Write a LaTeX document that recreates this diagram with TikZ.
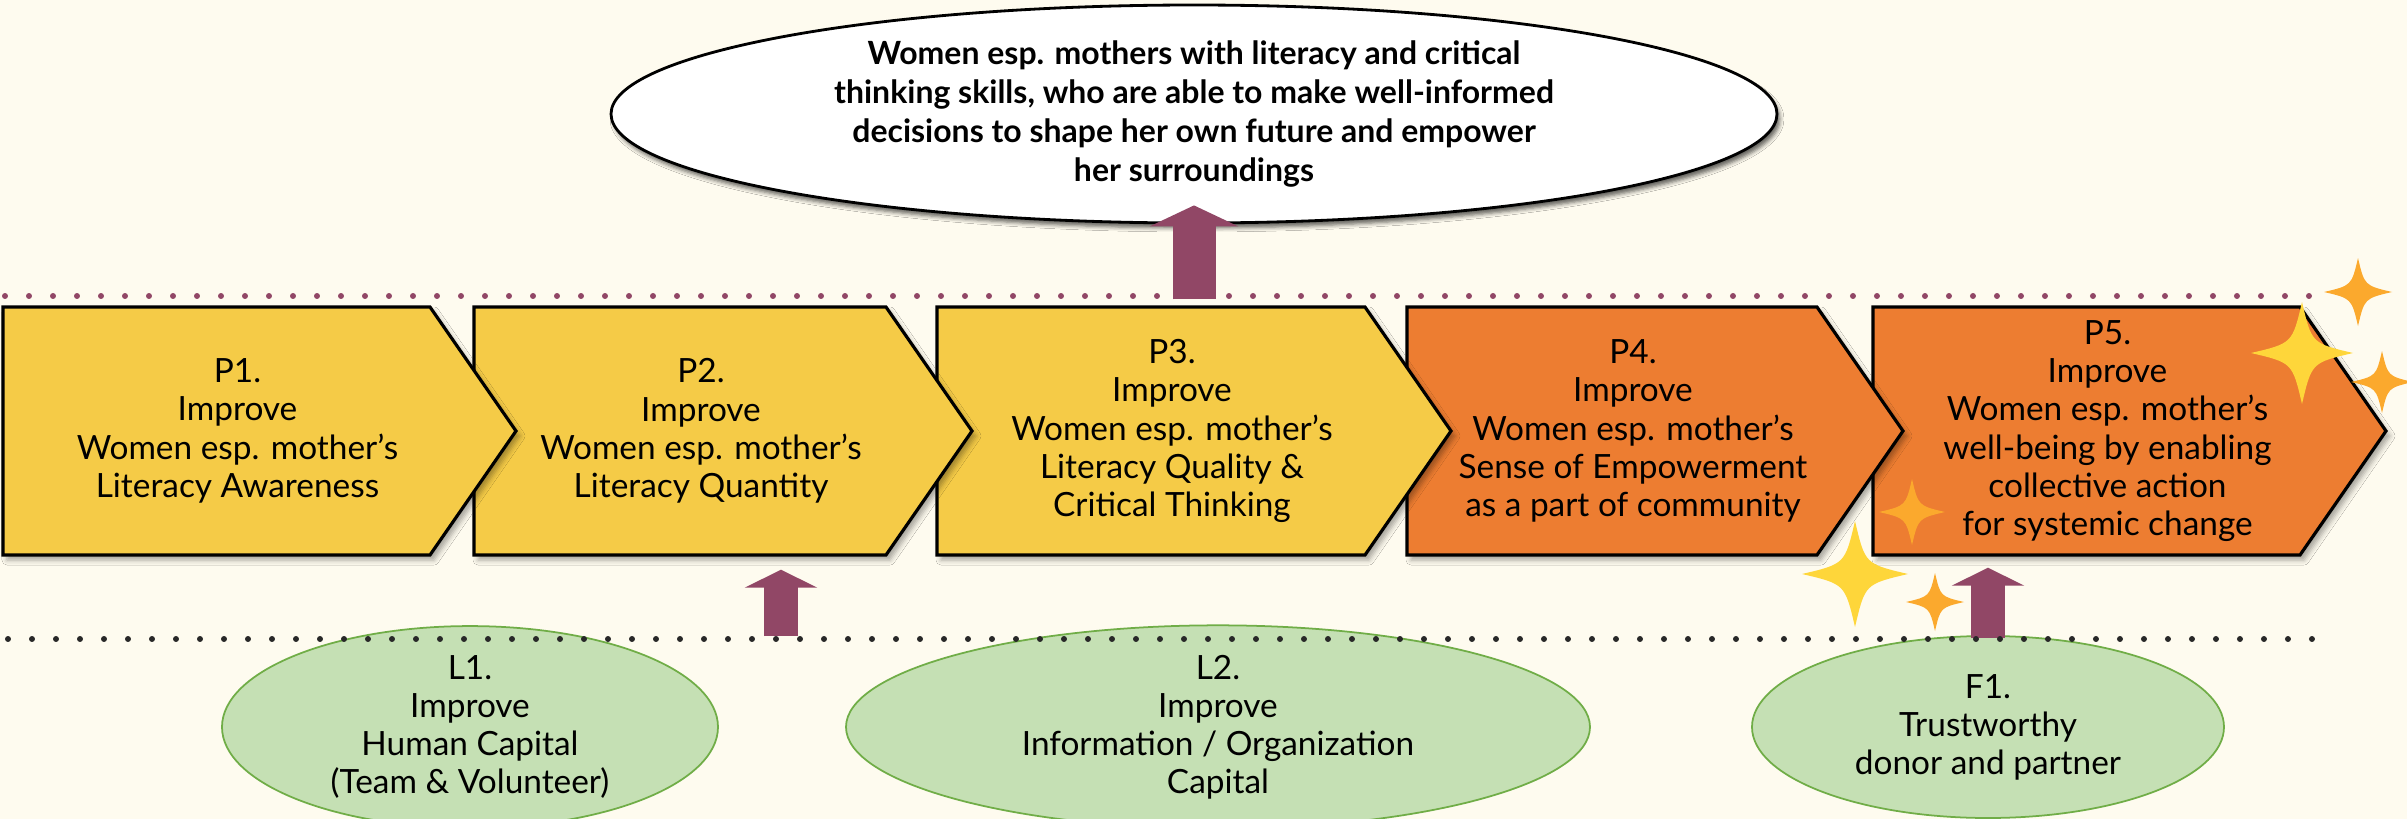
\documentclass[tikz,border=0pt]{standalone}
\usepackage{fontspec}
\setmainfont{Lato}
\usepackage{tikz}
\usetikzlibrary{arrows.meta, calc, shapes.geometric, shadows.blur}
\definecolor{paper}{RGB}{254,251,239}
\definecolor{stageYellow}{RGB}{245,203,71}
\definecolor{stageOrange}{RGB}{237,125,49}
\definecolor{liftMaroon}{RGB}{145,71,102}
\definecolor{capFill}{RGB}{197,224,180}
\definecolor{capLine}{RGB}{112,173,71}
\definecolor{sparkYellow}{RGB}{254,214,58}
\definecolor{sparkOrange}{RGB}{251,169,45}
\definecolor{dotGrey}{RGB}{40,40,40}
\tikzset{
    stage/.style={draw=black, line width=0.9pt, fill=#1,
                  blur shadow={shadow xshift=0.4mm, shadow yshift=-0.5mm,
                               shadow blur radius=0.5mm, shadow opacity=35}},
    stage/.default=stageYellow,
    stagetext/.style={align=center, inner sep=0pt, minimum height=2.48cm,
                      font=\fontsize{9.5}{10.9}\selectfont},
    goal/.style={ellipse, draw=black, line width=0.8pt, fill=white, align=center,
                 inner sep=0pt, minimum width=11.66cm, minimum height=2.18cm,
                 font=\fontsize{9.1}{11.1}\selectfont\bfseries,
                 blur shadow={shadow xshift=0.3mm, shadow yshift=-0.5mm,
                              shadow blur radius=0.4mm, shadow opacity=60}},
    capital/.style={ellipse, draw=capLine, line width=0.5pt, fill=capFill, align=center,
                    inner sep=0pt, minimum height=1.82cm,
                    font=\fontsize{9.5}{10.8}\selectfont},
    layer/.style={line width=1.7pt, line cap=round, dash pattern=on 0pt off 2.4mm, #1},
    lift/.style={draw=liftMaroon, line width=3.4mm, -{Triangle[length=1.8mm, width=7.2mm]}},
    biglift/.style={draw=liftMaroon, line width=4.3mm, -{Triangle[length=2.1mm, width=8.8mm]}},
    sparkle/.pic={
        \fill (1,0) .. controls (0.19,0.19) .. (0,1) .. controls (-0.19,0.19) .. (-1,0)
              .. controls (-0.19,-0.19) .. (0,-1) .. controls (0.19,-0.19) .. (1,0) -- cycle;
    }
}
\begin{document}
\begin{tikzpicture}[x=0.1mm, y=-0.1mm]
    \useasboundingbox (0,0) rectangle (2407,819);
    \fill[paper] (0,0) rectangle (2407,819);

    % aim on top
    \node[goal] (goal) at (1194,114) {Women esp. mothers with literacy and critical\\
        thinking skills, who are able to make well-informed\\
        decisions to shape her own future and empower\\
        her surroundings};

    % learning and financial capitals
    \node[capital, minimum width=4.96cm] (L1) at (470,727) {L1.\\Improve\\Human Capital\\(Team \& Volunteer)};
    \node[capital, minimum width=7.44cm] (L2) at (1218,727) {L2.\\Improve\\Information / Organization\\Capital};
    \node[capital, minimum width=4.72cm] (F1) at (1988,727) {F1.\\Trustworthy\\donor and partner};

    % process chain, drawn back to front so every tip lies on the next box
    \foreach \nm/\lx/\w/\col/\txt in {
        P5/1873/513/stageOrange/{P5.\\Improve\\Women esp. mother’s\\well-being by enabling\\collective action\\for systemic change},
        P4/1407/496/stageOrange/{P4.\\Improve\\Women esp. mother’s\\Sense of Empowerment\\as a part of community},
        P3/937/514/stageYellow/{P3.\\Improve\\Women esp. mother’s\\Literacy Quality \&\\Critical Thinking},
        P2/474/498/stageYellow/{P2.\\Improve\\Women esp. mother’s\\Literacy Quantity},
        P1/3/513/stageYellow/{P1.\\Improve\\Women esp. mother’s\\Literacy Awareness}} {
        \path[stage=\col] (\lx,307) -- ++({\w-86},0) -- ++(86,124) -- ++(-86,124) -- ++({86-\w},0) -- cycle;
        \node[stagetext, minimum width={(\w-44)*0.1mm}] (\nm) at ({\lx+(\w-44)/2},431) {\txt};
    }

    % arrows up from the capitals
    \coordinate (learnLift) at (781,636);
    \draw[lift] (learnLift) -- ($(learnLift |- P2.south)+(0,14)$);
    \draw[lift] ($(F1.north)+(0,3)$) -- ($(F1.north |- P5.south)+(0,12)$);

    % layer borders
    \coordinate (topW) at (5,296);
    \coordinate (topE) at (2310,296);
    \coordinate (lowW) at (8,639);
    \coordinate (lowE) at (2312,639);
    \draw[layer=liftMaroon] (topW) -- (topE);
    \draw[layer=dotGrey] (lowW) -- (lowE);

    \draw[biglift] ($(goal.south |- P3.north)+(0,-7)$) -- ($(goal.south)+(0,-19)$);

    % sparkles round P5
    \pic[fill=sparkOrange, scale=34] at (2358,292) {sparkle};
    \pic[fill=sparkYellow, scale=51] at (2302,353) {sparkle};
    \pic[fill=sparkOrange, scale=31] at (2382,382) {sparkle};
    \pic[fill=sparkOrange, scale=33] at (1912,512) {sparkle};
    \pic[fill=sparkYellow, scale=53] at (1855,574) {sparkle};
    \pic[fill=sparkOrange, scale=29] at (1935,602) {sparkle};
\end{tikzpicture}
\end{document}
